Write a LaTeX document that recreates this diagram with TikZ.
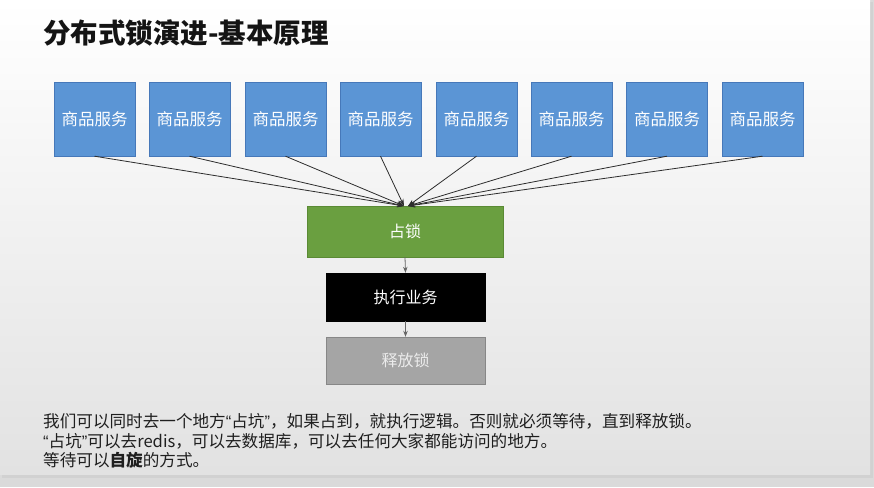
\documentclass[tikz,border=0pt]{standalone}
\usepackage{fontspec}
\setmainfont{Noto Sans CJK SC}
\newfontfamily\latinq{Liberation Sans}
\usetikzlibrary{arrows.meta}
\definecolor{blueF}{RGB}{91,149,213}
\definecolor{blueB}{RGB}{70,120,185}
\definecolor{greenF}{RGB}{106,159,64}
\definecolor{greenB}{RGB}{90,138,52}
\definecolor{grayF}{RGB}{165,165,165}
\definecolor{grayB}{RGB}{135,135,135}
\definecolor{lineC}{RGB}{45,45,45}
\definecolor{bgBot}{RGB}{226,226,226}
\definecolor{outer}{RGB}{218,218,218}
\newcommand{\myLq}{{\latinq “}}
\newcommand{\myRq}{{\latinq ”}}
\tikzset{
  svc/.style={draw=blueB, fill=blueF, minimum width=81pt, minimum height=74pt,
    inner sep=0pt, text=white, font=\fontsize{16.5}{16.5}\selectfont},
  stepbox/.style={minimum height=48pt, inner sep=0pt, font=\fontsize{16}{16}\selectfont},
  conn/.style={draw=lineC, line width=0.8pt, -{Stealth[length=7pt,width=5pt]}},
  body/.style={anchor=west, inner sep=0pt, text=black!88, font=\fontsize{16.6}{16.6}\selectfont},
}
\begin{document}
\begin{tikzpicture}[x=1pt,y=-1pt]
\useasboundingbox (0,0) rectangle (874,487);
\fill[outer] (0,0) rectangle (874,487);
\fill[black!18] (2,2) rectangle (873,478);
\shade[top color=white, bottom color=bgBot] (0,0) rectangle (870,474);

\node[anchor=west, inner sep=0pt, font=\fontsize{27.5}{27.5}\selectfont\bfseries, text=black!92] (title) at (43,33) {分布式锁演进-基本原理};

\foreach \i/\x in {1/94.5,2/189.5,3/285.5,4/380.5,5/476.5,6/571.5,7/667,8/762.5}
  \node[svc] (s\i) at (\x,119) {商品服务};

\node[stepbox, draw=greenB, fill=greenF, minimum width=196pt, minimum height=51pt, text=white] (lock) at (405,231.5) {占锁};
\node[stepbox, draw=black, fill=black, minimum width=159pt, text=white] (exec) at (405.5,297) {执行业务};
\node[stepbox, draw=grayB, fill=grayF, minimum width=159pt, minimum height=47pt, text=white!92!black] (rel) at (405.5,360.5) {释放锁};

\coordinate (tl) at (404,206);
\coordinate (tr) at (408,206);
\foreach \i in {1,2,3,4}
  \draw[conn] (s\i.south) -- (tl);
\foreach \i in {5,6,7,8}
  \draw[conn] (s\i.south) -- (tr);

\draw[draw=black!60, line width=0.8pt, -{Stealth[length=6pt,width=4.5pt]}] (lock.south) -- (exec.north);
\draw[draw=black!60, line width=0.8pt, -{Stealth[length=6pt,width=4.5pt]}] (exec.south) -- (rel.north);

\node[body] (l1) at (43,421) {我们可以同时去一个地方\myLq 占坑\myRq ，如果占到，就执行逻辑。否则就必须等待，直到释放锁。};
\node[body] (l2) at (43,441) {\myLq 占坑\myRq 可以去redis，可以去数据库，可以去任何大家都能访问的地方。};
\node[body] (l3) at (43,460) {等待可以\textbf{自旋}的方式。};
\end{tikzpicture}
\end{document}
